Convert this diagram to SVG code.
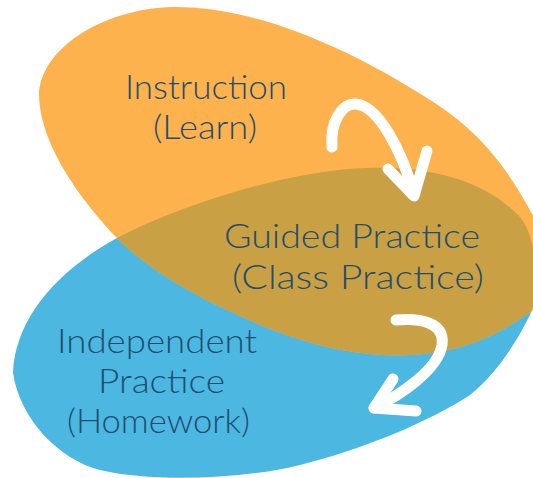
<svg xmlns="http://www.w3.org/2000/svg" width="533" height="478" viewBox="0 0 533 478">
  <defs>
    <style>
      .lbl { font-family: "Lato", "Open Sans", sans-serif; font-weight: 300; font-size: 33px; fill: #1F4E6F; }
      .arrow { fill: none; stroke: #FFFFFF; stroke-width: 11; stroke-linecap: round; stroke-linejoin: round; }
    </style>
    <path id="orangeShape" d="M 39,95 C 40,50 100,10 170,7 C 260,5 360,55 430,100 C 475,128 510,165 545,240 C 565,285 560,300 533,310 C 505,330 470,352 410,355 C 340,358 280,335 227,310 C 180,288 140,262 117,238 C 90,210 40,150 39,95 Z"/>
    <path id="blueShape" d="M 13,373 C 15,320 55,272 117,238 C 180,205 290,170 367,168 C 430,166 485,180 520,217 C 535,235 543,285 530,315 C 515,345 495,375 470,395 C 445,412 380,445 300,465 C 240,480 150,482 100,470 C 60,460 20,420 13,373 Z"/>
    <clipPath id="blueClip"><use href="#blueShape"/></clipPath>
  </defs>

  <g id="independent-practice">
    <use href="#blueShape" fill="#4CB8E1"/>
  </g>
  <g id="instruction">
    <use href="#orangeShape" fill="#FDB24D"/>
  </g>
  <g id="guided-practice">
    <use href="#orangeShape" fill="#C9A044" clip-path="url(#blueClip)"/>
  </g>

  <g id="labels">
    <text class="lbl" x="125" y="99" textLength="162" lengthAdjust="spacingAndGlyphs">Instruction</text>
    <text class="lbl" x="153" y="139" textLength="104" lengthAdjust="spacingAndGlyphs">(Learn)</text>
    <text class="lbl" x="224" y="248" textLength="256" lengthAdjust="spacingAndGlyphs">Guided Practice</text>
    <text class="lbl" x="232" y="289" textLength="252" lengthAdjust="spacingAndGlyphs">(Class Practice)</text>
    <text class="lbl" x="57" y="353" textLength="200" lengthAdjust="spacingAndGlyphs">Independent</text>
    <text class="lbl" x="98" y="393" textLength="127" lengthAdjust="spacingAndGlyphs">Practice</text>
    <text class="lbl" x="67" y="433" textLength="183" lengthAdjust="spacingAndGlyphs">(Homework)</text>
  </g>

  <g id="connectors">
    <path class="arrow" d="M 332,147 C 330,120 343,103 356,104 C 378,106 402,150 414,195"/>
    <path class="arrow" d="M 388,169 L 414,196 L 427,151"/>
    <path class="arrow" d="M 396,320 C 420,318 445,322 442,345 C 438,370 400,395 374,408"/>
    <path class="arrow" d="M 393,379 L 374,408 L 416,411"/>
  </g>
</svg>
